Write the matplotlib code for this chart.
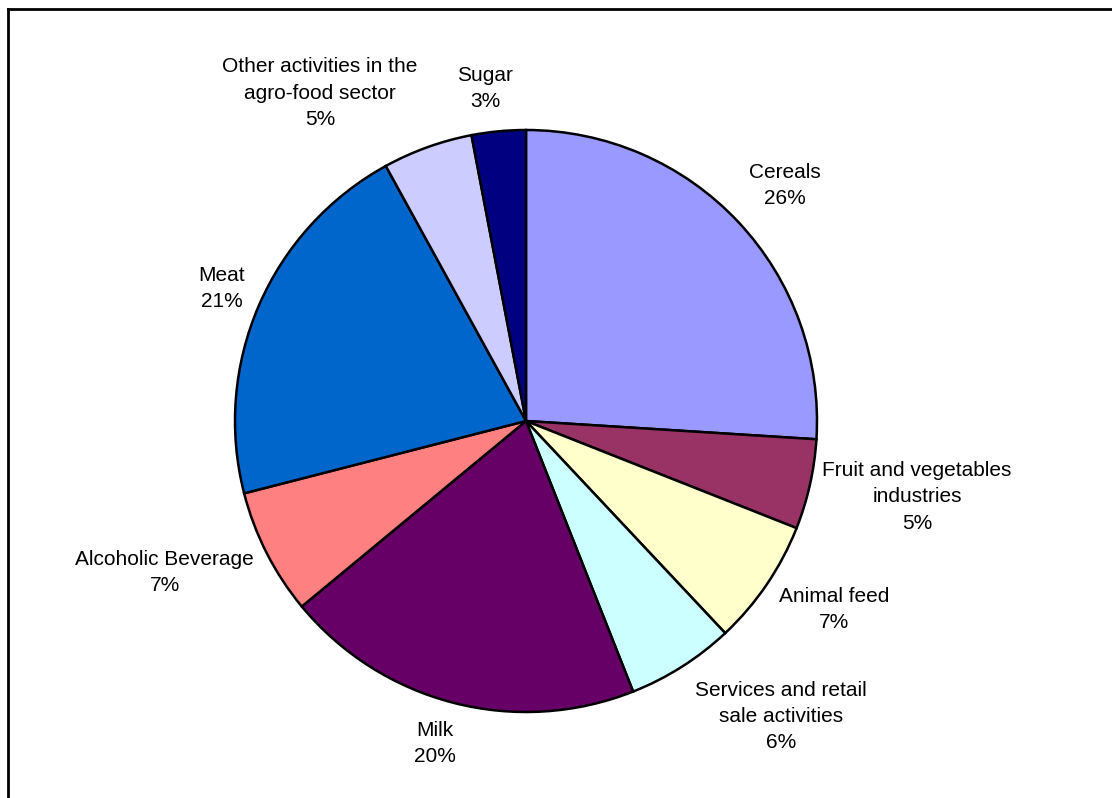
import numpy as np
import matplotlib
matplotlib.use("Agg")
import matplotlib.pyplot as plt
from matplotlib.lines import Line2D

plt.rcParams["font.family"] = ["Liberation Sans", "DejaVu Sans"]

categories = [
    "Cereals",
    "Fruit and vegetables\nindustries",
    "Animal feed",
    "Services and retail\nsale activities",
    "Milk",
    "Alcoholic Beverage",
    "Meat",
    "Other activities in the\nagro-food sector",
    "Sugar",
]
shares = [26, 5, 7, 6, 20, 7, 21, 5, 3]
colors = [
    "#9999ff", "#993366", "#ffffcc", "#ccffff", "#660066",
    "#ff8080", "#0066cc", "#ccccff", "#000080",
]
# label centres, in pie radii from the centre
label_pos = [
    (0.890, 0.808), (1.344, -0.261), (1.058, -0.649), (0.876, -1.017),
    (-0.313, -1.107), (-1.241, -0.522), (-1.045, 0.454), (-0.708, 1.127),
    (-0.141, 1.141),
]

W, H = 1112, 798
fig = plt.figure(figsize=(W / 100, H / 100), dpi=100)

# pie centred at (526, 421) px with radius 291 px
cx, cy, r = 526, 421, 291
ax = fig.add_axes([(cx - r) / W, (H - cy - r) / H, 2 * r / W, 2 * r / H])
ax.pie(
    shares,
    colors=colors,
    startangle=90,
    counterclock=False,
    wedgeprops=dict(edgecolor="black", linewidth=1.8),
)
ax.set_xlim(-1, 1)
ax.set_ylim(-1, 1)
ax.set_aspect("equal")
ax.axis("off")

for name, val, (lx, ly) in zip(categories, shares, label_pos):
    ax.text(lx, ly, f"{name}\n{val}%", ha="center", va="center",
            fontsize=15, linespacing=1.47, clip_on=False)

# chart area frame (runs off the right and bottom edges)
fig.add_artist(Line2D([8 / W, 1.01], [1 - 9 / H, 1 - 9 / H], color="black", lw=2))
fig.add_artist(Line2D([8 / W, 8 / W], [-0.01, 1 - 9 / H], color="black", lw=2))

fig.savefig("out.png", dpi=100, facecolor="white")
